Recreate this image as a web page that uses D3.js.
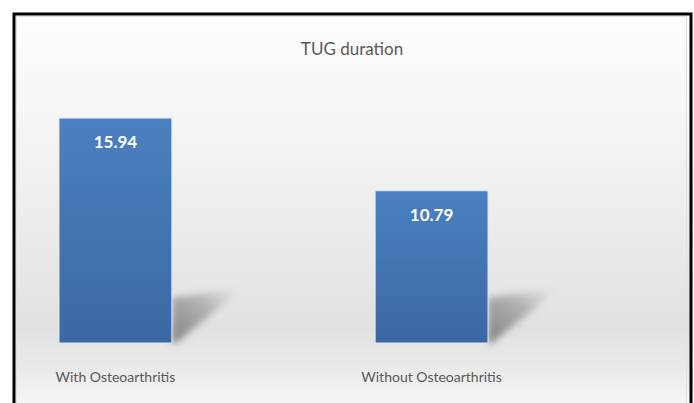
<!DOCTYPE html>
<html>
<head>
<meta charset="utf-8">
<script src="https://cdn.jsdelivr.net/npm/d3@7"></script>
<style>
  html, body { margin: 0; padding: 0; background: #fff; }
  svg { display: block; }
  text { font-family: Lato, "Open Sans", sans-serif; }
</style>
</head>
<body>
<svg id="chart" width="694" height="403"></svg>
<script>
// TUG (Timed Up and Go) duration, seconds
const categories = ["With Osteoarthritis", "Without Osteoarthritis"];
const durations = [15.94, 10.79];
const chartTitle = "TUG duration";

const svg = d3.select("#chart");
const W = 694, H = 403;

const defs = svg.append("defs");

// chart area background: light at the top, grey towards the base, lighter under the labels
const bg = defs.append("linearGradient").attr("id", "bgGrad")
  .attr("x1", 0).attr("y1", 0).attr("x2", 0).attr("y2", 1);
[[0, "#fefefe"], [0.18, "#f8f8f8"], [0.5, "#ededed"], [0.78, "#e1e1e1"], [0.88, "#eaeaea"], [1, "#fafafa"]]
  .forEach(([o, c]) => bg.append("stop").attr("offset", o).attr("stop-color", c));

const barGrad = defs.append("linearGradient").attr("id", "barGrad")
  .attr("x1", 0).attr("y1", 0).attr("x2", 0).attr("y2", 1);
[[0, "#4b80c0"], [1, "#3b68a4"]]
  .forEach(([o, c]) => barGrad.append("stop").attr("offset", o).attr("stop-color", c));

const shadowGrad = defs.append("linearGradient").attr("id", "shadowGrad")
  .attr("x1", 0).attr("y1", 1).attr("x2", 1).attr("y2", 0);
[[0, "#6f6f6f", 0.85], [0.6, "#8a8a8a", 0.55], [1, "#aaaaaa", 0.0]]
  .forEach(([o, c, a]) => shadowGrad.append("stop").attr("offset", o).attr("stop-color", c).attr("stop-opacity", a));

defs.append("filter").attr("id", "blur").attr("x", "-30%").attr("y", "-30%").attr("width", "160%").attr("height", "160%")
  .append("feGaussianBlur").attr("stdDeviation", 3.5);

// frame
svg.append("rect").attr("x", 14).attr("y", 14).attr("width", 677).attr("height", H)
  .attr("fill", "url(#bgGrad)");
svg.append("rect").attr("x", 16.5).attr("y", 16.5).attr("width", 670).attr("height", H)
  .attr("fill", "none").attr("stroke", "#e2e2e2").attr("stroke-width", 1);
svg.append("path").attr("d", `M14,${H} V14 H691 V${H}`)
  .attr("fill", "none").attr("stroke", "#000").attr("stroke-width", 3);

// scales
const x = d3.scaleBand().domain(categories).range([59, 488]).paddingInner(0.643).paddingOuter(0);
const y = d3.scaleLinear().domain([0, 18]).range([343, 89]);

const data = categories.map((c, i) => ({ cat: c, value: durations[i] }));

// perspective shadows cast to the right of each bar's base
svg.append("g").selectAll("path").data(data).join("path")
  .attr("d", d => {
    const r = x(d.cat) + x.bandwidth();
    const b = y(0);
    return `M${r},${b - 45} L${r + 66},${b - 54} L${r + 60},${b - 46} L${r + 4},${b} L${r},${b} Z`;
  })
  .attr("fill", "url(#shadowGrad)")
  .attr("filter", "url(#blur)");

// bars
svg.append("g").selectAll("rect").data(data).join("rect")
  .attr("x", d => x(d.cat))
  .attr("y", d => y(d.value))
  .attr("width", x.bandwidth())
  .attr("height", d => y(0) - y(d.value))
  .attr("fill", "url(#barGrad)")
  .attr("stroke", "#dfe6ef").attr("stroke-width", 1);

// value labels inside the bar tops
svg.append("g").selectAll("text").data(data).join("text")
  .attr("x", d => x(d.cat) + x.bandwidth() / 2)
  .attr("y", d => y(d.value) + 30)
  .attr("text-anchor", "middle")
  .attr("fill", "#fff").attr("font-weight", "bold").attr("font-size", 17)
  .text(d => d.value.toFixed(2));

// category labels
svg.append("g").selectAll("text").data(data).join("text")
  .attr("x", d => x(d.cat) + x.bandwidth() / 2)
  .attr("y", 382)
  .attr("text-anchor", "middle")
  .attr("fill", "#595959").attr("font-size", 14)
  .text(d => d.cat);

// title
svg.append("text")
  .attr("x", 352).attr("y", 55)
  .attr("text-anchor", "middle")
  .attr("fill", "#595959").attr("font-size", 17)
  .text(chartTitle);
</script>
</body>
</html>
